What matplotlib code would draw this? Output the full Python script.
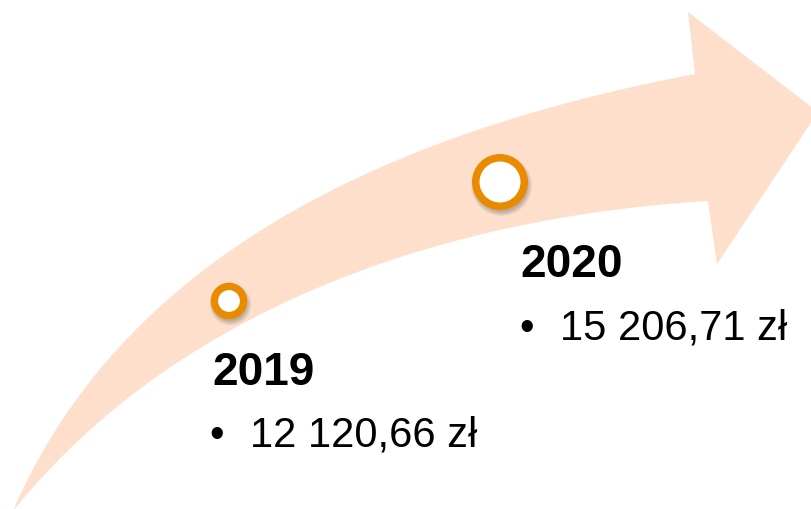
import numpy as np
import matplotlib
matplotlib.use("Agg")
import matplotlib.pyplot as plt
from matplotlib.patches import Polygon, Circle

# ---- data ----
years = ["2019", "2020"]
values = [12120.66, 15206.71]
currency = "zł"

# ---- layout / style constants (pixel space) ----
W, H = 811, 510
marker_x = [229, 500]
marker_y = [302, 183]
marker_r_out = [18.3, 28.0]
marker_r_in = [10.9, 20.5]
year_xy = [(212, 385), (520, 277)]
bullet_xy = [(209, 447), (519, 340)]
value_x = [250, 560]

band_color = "#FDDFCC"
ring_color = "#E88B00"

upper_pts = np.array([(13, 512), (77, 400), (137, 330), (220, 260), (233, 250), (320, 195),
                      (400, 160), (490, 127), (580, 102), (695, 75)], float)
lower_pts = np.array([(13, 512), (140, 390), (220, 337), (367, 270),
                      (460, 240), (540, 223), (708, 202)], float)
head = np.array([(688, 13), (818, 113), (717, 265)], float)


def bezier_fit(pts, n=300):
    """Least-squares cubic Bezier with fixed end points."""
    d = np.r_[0, np.cumsum(np.hypot(*np.diff(pts, axis=0).T))]
    t = d / d[-1]
    b0 = (1 - t) ** 3
    b1 = 3 * t * (1 - t) ** 2
    b2 = 3 * t ** 2 * (1 - t)
    b3 = t ** 3
    P0, P3 = pts[0], pts[-1]
    rhs = pts - np.outer(b0, P0) - np.outer(b3, P3)
    A = np.c_[b1, b2]
    sol, *_ = np.linalg.lstsq(A, rhs, rcond=None)
    P1, P2 = sol
    for _ in range(5):
        # reparameterize by nearest point
        tt = np.linspace(0, 1, 2000)
        curve = (np.outer((1 - tt) ** 3, P0) + np.outer(3 * tt * (1 - tt) ** 2, P1)
                 + np.outer(3 * tt ** 2 * (1 - tt), P2) + np.outer(tt ** 3, P3))
        idx = [np.argmin(np.hypot(*(curve - p).T)) for p in pts]
        t = tt[idx]
        b0 = (1 - t) ** 3; b1 = 3 * t * (1 - t) ** 2
        b2 = 3 * t ** 2 * (1 - t); b3 = t ** 3
        rhs = pts - np.outer(b0, P0) - np.outer(b3, P3)
        sol, *_ = np.linalg.lstsq(np.c_[b1, b2], rhs, rcond=None)
        P1, P2 = sol
    tt = np.linspace(0, 1, n)
    return (np.outer((1 - tt) ** 3, P0) + np.outer(3 * tt * (1 - tt) ** 2, P1)
            + np.outer(3 * tt ** 2 * (1 - tt), P2) + np.outer(tt ** 3, P3))


up = bezier_fit(upper_pts)
lo = bezier_fit(lower_pts)
outline = np.vstack([up, head[0:1], head[1:2], head[2:3], lo[::-1]])

fig = plt.figure(figsize=(W / 100, H / 100), dpi=100)
ax = fig.add_axes([0, 0, 1, 1])
ax.set_xlim(0, W)
ax.set_ylim(H, 0)
ax.axis("off")

ax.add_patch(Polygon(outline, closed=True, facecolor=band_color, edgecolor="none", zorder=1))

for cx, cy, ro, ri in zip(marker_x, marker_y, marker_r_out, marker_r_in):
    # soft shadow
    for k in range(6):
        ax.add_patch(Circle((cx + 1.5, cy + 3.5), ro + 2.5 - k * 0.9,
                            facecolor="#555555", edgecolor="none", alpha=0.07, zorder=2))
    ax.add_patch(Circle((cx, cy), (ro + ri) / 2, facecolor="white",
                        edgecolor=ring_color, linewidth=(ro - ri) * 0.72, zorder=3))


def fmt(v):
    s = f"{v:,.2f}"
    return s.replace(",", " ").replace(".", ",") + " " + currency


for i, (yr, v) in enumerate(zip(years, values)):
    ax.text(year_xy[i][0], year_xy[i][1], yr, fontsize=33, fontweight="bold",
            family="Liberation Sans", color="black", va="baseline", ha="left", zorder=4)
    ax.text(bullet_xy[i][0], bullet_xy[i][1], "•", fontsize=30,
            family="Liberation Sans", color="black", va="baseline", ha="left", zorder=4)
    ax.text(value_x[i], bullet_xy[i][1], fmt(v), fontsize=30,
            family="Liberation Sans", color="black", va="baseline", ha="left", zorder=4)

fig.savefig("out.png", dpi=100)
